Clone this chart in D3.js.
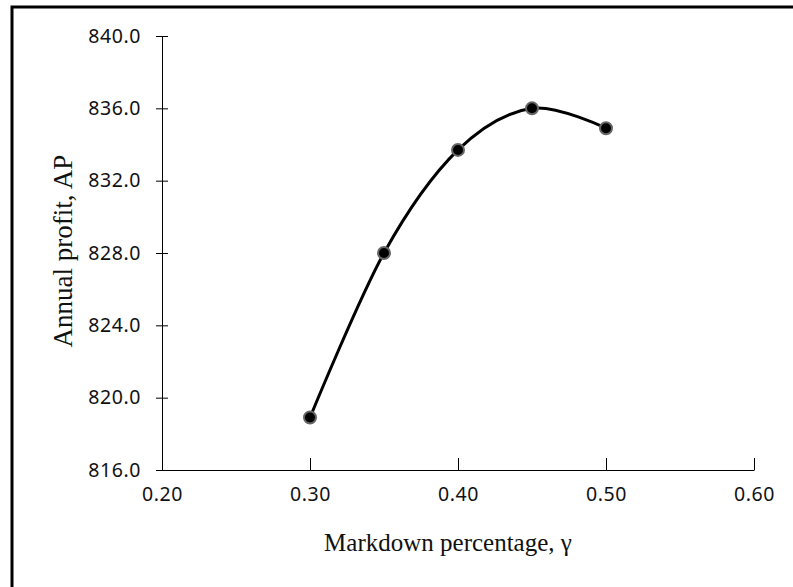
<!DOCTYPE html>
<html>
<head>
<meta charset="utf-8">
<script src="https://cdn.jsdelivr.net/npm/d3@7"></script>
<style>
  html, body { margin: 0; padding: 0; background: #fff; }
  svg { display: block; }
</style>
</head>
<body>
<svg id="chart" width="793" height="587"></svg>
<script>
// Markdown percentage vs. annual profit
const markdown = [0.30, 0.35, 0.40, 0.45, 0.50];
const profit = [818.9, 828.0, 833.7, 836.0, 834.9];
const xTicks = [0.20, 0.30, 0.40, 0.50, 0.60];
const yTicks = [816, 820, 824, 828, 832, 836, 840];

const svg = d3.select("#chart");
const W = 793, H = 587;

// frame
svg.append("rect").attr("x", 0).attr("y", 0).attr("width", W).attr("height", H).attr("fill", "#fff");
svg.append("path")
  .attr("d", `M12,${H} L12,7 L${W},7`)
  .attr("fill", "none").attr("stroke", "#000").attr("stroke-width", 3);

const x = d3.scaleLinear().domain([0.2, 0.6]).range([162, 754]);
const y = d3.scaleLinear().domain([816, 840]).range([470, 36]);

const tickFont = "'Noto Sans', sans-serif";
const titleFont = "'Liberation Serif', 'Times New Roman', serif";

// y axis with crossing ticks
const yAxis = svg.append("g").attr("transform", "translate(162,0)")
  .call(d3.axisLeft(y).tickValues(yTicks).tickFormat(d3.format(".1f")).tickSize(6).tickSizeOuter(0));
yAxis.select(".domain").attr("stroke", "#000").attr("stroke-width", 1);
yAxis.selectAll(".tick line").attr("x1", 6).attr("x2", -6).attr("stroke", "#000");
yAxis.selectAll(".tick text").attr("x", -21).attr("font-family", tickFont).attr("font-size", 19.5)
  .attr("letter-spacing", 0.6).attr("fill", "#111");

// x axis with upward ticks
const xAxis = svg.append("g").attr("transform", "translate(0,470)")
  .call(d3.axisBottom(x).tickValues(xTicks).tickFormat(d3.format(".2f")).tickSize(0).tickSizeOuter(0));
xAxis.select(".domain").attr("stroke", "#000").attr("stroke-width", 1);
xAxis.selectAll(".tick line").attr("y1", -12).attr("y2", 0).attr("stroke", "#000");
xAxis.selectAll(".tick text").attr("y", 17).attr("font-family", tickFont).attr("font-size", 19.5)
  .attr("letter-spacing", 0.6).attr("fill", "#111");

// axis titles
svg.append("text").attr("x", 448).attr("y", 551).attr("text-anchor", "middle")
  .attr("font-family", titleFont).attr("font-size", 25).attr("fill", "#111")
  .text("Markdown percentage, γ");
svg.append("text").attr("transform", "translate(72,251) rotate(-90)").attr("text-anchor", "middle")
  .attr("font-family", titleFont).attr("font-size", 27).attr("fill", "#111")
  .text("Annual profit, AP");

// smoothed series line
const pts = markdown.map((m, i) => [m, profit[i]]);
const line = d3.line().x(d => x(d[0])).y(d => y(d[1])).curve(d3.curveCardinal.tension(0));
svg.append("path").datum(pts).attr("d", line)
  .attr("fill", "none").attr("stroke", "#000").attr("stroke-width", 3);

// markers
svg.selectAll("circle.pt").data(pts).enter().append("circle").attr("class", "pt")
  .attr("cx", d => x(d[0])).attr("cy", d => y(d[1])).attr("r", 6)
  .attr("fill", "#000").attr("stroke", "#666").attr("stroke-width", 2);
</script>
</body>
</html>
